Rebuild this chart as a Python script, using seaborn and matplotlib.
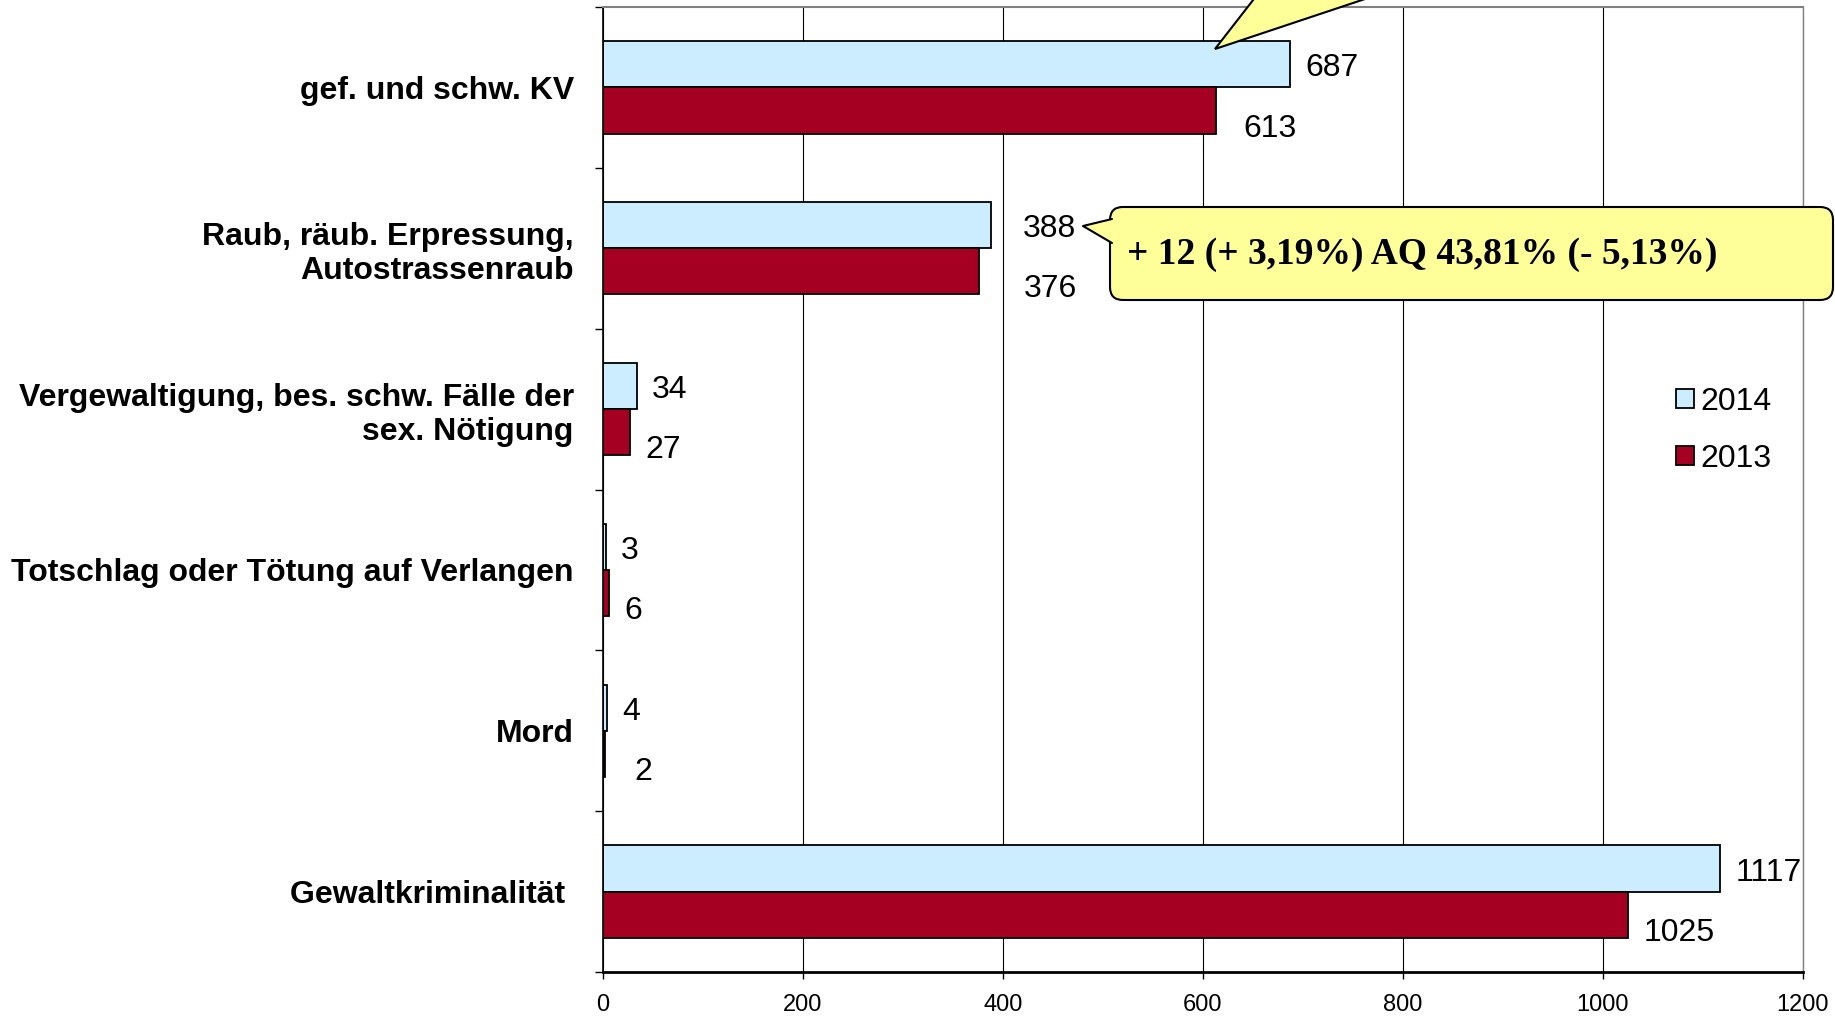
import pandas as pd
import matplotlib
matplotlib.use("Agg")
import matplotlib.pyplot as plt
from matplotlib.patches import FancyBboxPatch, Polygon
from matplotlib.lines import Line2D
import seaborn as sns

# data
categories = ['gef. und schw. KV',
              'Raub, räub. Erpressung,\nAutostrassenraub',
              'Vergewaltigung, bes. schw. Fälle der\nsex. Nötigung',
              'Totschlag oder Tötung auf Verlangen',
              'Mord',
              'Gewaltkriminalität ']
years = ['2014', '2013']
vals_2014 = [687, 388, 34, 3, 4, 1117]
vals_2013 = [613, 376, 27, 6, 2, 1025]
x_ticks = [0, 200, 400, 600, 800, 1000, 1200]
callout_text = '+ 12 (+ 3,19%) AQ 43,81% (- 5,13%)'

W, H = 1835, 1016

df = pd.DataFrame({
    'Kategorie': categories * 2,
    'Jahr': [years[0]] * len(categories) + [years[1]] * len(categories),
    'Wert': vals_2014 + vals_2013,
})

sns.set_style('white')
plt.rcParams['font.family'] = ['Liberation Sans', 'DejaVu Sans']
plt.rcParams['text.color'] = 'black'
plt.rcParams['xtick.color'] = 'black'
plt.rcParams['ytick.color'] = 'black'
plt.rcParams['xtick.labelsize'] = 17

fig, ax = plt.subplots(figsize=(W / 100, H / 100), dpi=100)
fig.subplots_adjust(left=603 / W, right=1803 / W, bottom=1 - 972 / H, top=1 - 7 / H)

sns.barplot(data=df, y='Kategorie', x='Wert', hue='Jahr', hue_order=years,
            palette=['#CCECFF', '#A50021'], orient='h', width=0.575,
            edgecolor='black', linewidth=1.3, saturation=1, ax=ax)

ax.set_xlim(0, 1200)
ax.set_ylim(len(categories) - 0.5, -0.5)
ax.set_xticks(x_ticks)
ax.set_xlabel('')
ax.set_ylabel('')
ax.tick_params(axis='x', direction='out', length=5, width=1, pad=11, bottom=True, labelsize=17)
ax.tick_params(axis='y', length=0, pad=21, labelsize=23)
for lbl in ax.get_yticklabels():
    lbl.set_fontweight('bold')
    lbl.set_horizontalalignment('right')
    lbl.set_multialignment('right')

# category separator ticks
ax.set_yticks([i - 0.5 for i in range(len(categories) + 1)], minor=True)
ax.tick_params(axis='y', which='minor', direction='out', length=6, width=1, left=True)

ax.xaxis.grid(True, color='black', linewidth=0.8)
ax.set_axisbelow(True)
for side in ['left', 'bottom']:
    ax.spines[side].set_color('black')
ax.spines['left'].set_linewidth(1.2)
ax.spines['bottom'].set_linewidth(2)
ax.spines['top'].set_color('#808080')
ax.spines['top'].set_linewidth(1.5)
ax.spines['right'].set_color('#808080')
ax.spines['right'].set_linewidth(1)

# value labels: base offset per series, plus a few extra nudges as in the original
offsets = [(11, -3), (11, -13)]
extra_dx = {(0, 1): 9, (1, 0): 12, (1, 1): 21, (4, 1): 10}
for s, (cont, vals, (dx, dy)) in enumerate(zip(ax.containers, [vals_2014, vals_2013], offsets)):
    for i, (bar, v) in enumerate(zip(cont, vals)):
        ax.annotate(str(v), xy=(bar.get_width(), bar.get_y() + bar.get_height() / 2),
                    xytext=(dx + extra_dx.get((i, s), 0), dy), textcoords='offset points',
                    ha='left', va='center', fontsize=23)

# legend
handles, labels = ax.get_legend_handles_labels()
ax.legend(handles, labels, loc='upper left', bbox_to_anchor=(1676 / W, 1 - 387 / H),
          bbox_transform=fig.transFigure, frameon=False, fontsize=23,
          handlelength=0.55, handleheight=0.55, handletextpad=0.2,
          labelspacing=0.85, borderpad=0, borderaxespad=0)


def inch(x, y):
    return (x / 100, (H - y) / 100)


tr = fig.dpi_scale_trans
yellow = '#FFFF99'

# pointer of the callout sitting above the chart
fig.add_artist(Polygon([inch(1257, -5), inch(1215, 49), inch(1377, -5)], closed=True,
                       facecolor=yellow, edgecolor='black', linewidth=1.5,
                       transform=tr, zorder=10))

# callout next to the Raub bars
x0, y0, x1, y1 = 1110, 207, 1833, 300
fig.add_artist(FancyBboxPatch(inch(x0, y1), (x1 - x0) / 100, (y1 - y0) / 100,
                              boxstyle='round,pad=0,rounding_size=0.13',
                              facecolor=yellow, edgecolor='black', linewidth=1.5,
                              transform=tr, zorder=10))
tip = inch(1083, 226)
b1, b2 = inch(1112, 219), inch(1112, 243)
fig.add_artist(Polygon([b1, tip, b2], closed=True, facecolor=yellow, edgecolor='none',
                       transform=tr, zorder=11))
fig.add_artist(Line2D([b1[0], tip[0], b2[0]], [b1[1], tip[1], b2[1]], color='black',
                      linewidth=1.5, transform=tr, zorder=12))
fig.text(1127 / W, 1 - 254 / H, callout_text, ha='left', va='center',
         family=['Liberation Serif', 'DejaVu Serif'], fontweight='bold', fontsize=27, zorder=13)

plt.setp(ax.get_xticklabels(), fontsize=17)
fig.savefig('out.png', dpi=100)
